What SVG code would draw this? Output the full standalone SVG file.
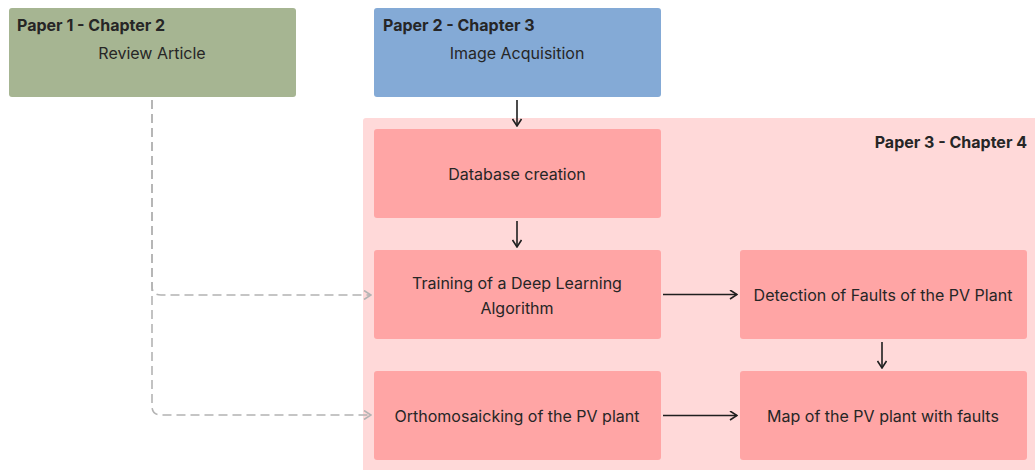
<svg xmlns="http://www.w3.org/2000/svg" width="1035" height="470" viewBox="0 0 1035 470">
<defs>
<style>
.t{font-family:Inter,"Noto Sans","Liberation Sans",sans-serif;font-size:16px;fill:#262626;}
.b{font-weight:bold;}
.c{text-anchor:middle;}
.n{fill:#ffa5a5;}
.a{fill:none;stroke:#1f1f1f;stroke-width:1.6;}
.d{fill:none;stroke:#b3b3b3;stroke-width:1.6;stroke-dasharray:9 5;}
</style>
<marker id="ah" viewBox="0 0 10 10" refX="9" refY="5" markerWidth="10" markerHeight="10" markerUnits="userSpaceOnUse" orient="auto">
<path d="M2,0.5 L9,5 L2,9.5" fill="none" stroke="#1f1f1f" stroke-width="1.6"/>
</marker>
<marker id="ahg" viewBox="0 0 10 10" refX="9" refY="5" markerWidth="10" markerHeight="10" markerUnits="userSpaceOnUse" orient="auto">
<path d="M2,0.5 L9,5 L2,9.5" fill="none" stroke="#b3b3b3" stroke-width="1.6"/>
</marker>
</defs>
<rect width="1035" height="470" fill="#ffffff"/>
<g id="paper3">
<rect x="363" y="118" width="680" height="360" rx="3" fill="#ffd9d9"/>
<text class="t b" x="1027" y="148" text-anchor="end">Paper 3 - Chapter 4</text>
</g>
<g id="paper1">
<rect x="9" y="8" width="287" height="89" rx="3" fill="#a6b592"/>
<text class="t b" x="17" y="31">Paper 1 - Chapter 2</text>
<text class="t c" x="152" y="59">Review Article</text>
</g>
<g id="paper2">
<rect x="374" y="8" width="287" height="89" rx="3" fill="#84aad6"/>
<text class="t b" x="383" y="31">Paper 2 - Chapter 3</text>
<text class="t c" x="517" y="59">Image Acquisition</text>
</g>
<g id="database">
<rect class="n" x="374" y="129" width="287" height="89" rx="3"/>
<text class="t c" x="517" y="180">Database creation</text>
</g>
<g id="training">
<rect class="n" x="374" y="250" width="287" height="89" rx="3"/>
<text class="t c" x="517" y="289">Training of a Deep Learning</text>
<text class="t c" x="517" y="314">Algorithm</text>
</g>
<g id="ortho">
<rect class="n" x="374" y="371" width="287" height="89" rx="3"/>
<text class="t c" x="517" y="422">Orthomosaicking of the PV plant</text>
</g>
<g id="detection">
<rect class="n" x="740" y="250" width="287" height="89" rx="3"/>
<text class="t c" x="883" y="301">Detection of Faults of the PV Plant</text>
</g>
<g id="map">
<rect class="n" x="740" y="371" width="287" height="89" rx="3"/>
<text class="t c" x="883" y="422">Map of the PV plant with faults</text>
</g>
<g id="connectors">
<path class="a" d="M517,100 V126" marker-end="url(#ah)"/>
<path class="a" d="M517,221 V247" marker-end="url(#ah)"/>
<path class="a" d="M663,294.5 H737" marker-end="url(#ah)"/>
<path class="a" d="M663,415.5 H737" marker-end="url(#ah)"/>
<path class="a" d="M882,342 V368" marker-end="url(#ah)"/>
<path class="d" d="M152,100 V286 Q152,295 161,295 H371" marker-end="url(#ahg)"/>
<path class="d" d="M152,100 V406 Q152,415 161,415 H371" marker-end="url(#ahg)"/>
</g>
</svg>
